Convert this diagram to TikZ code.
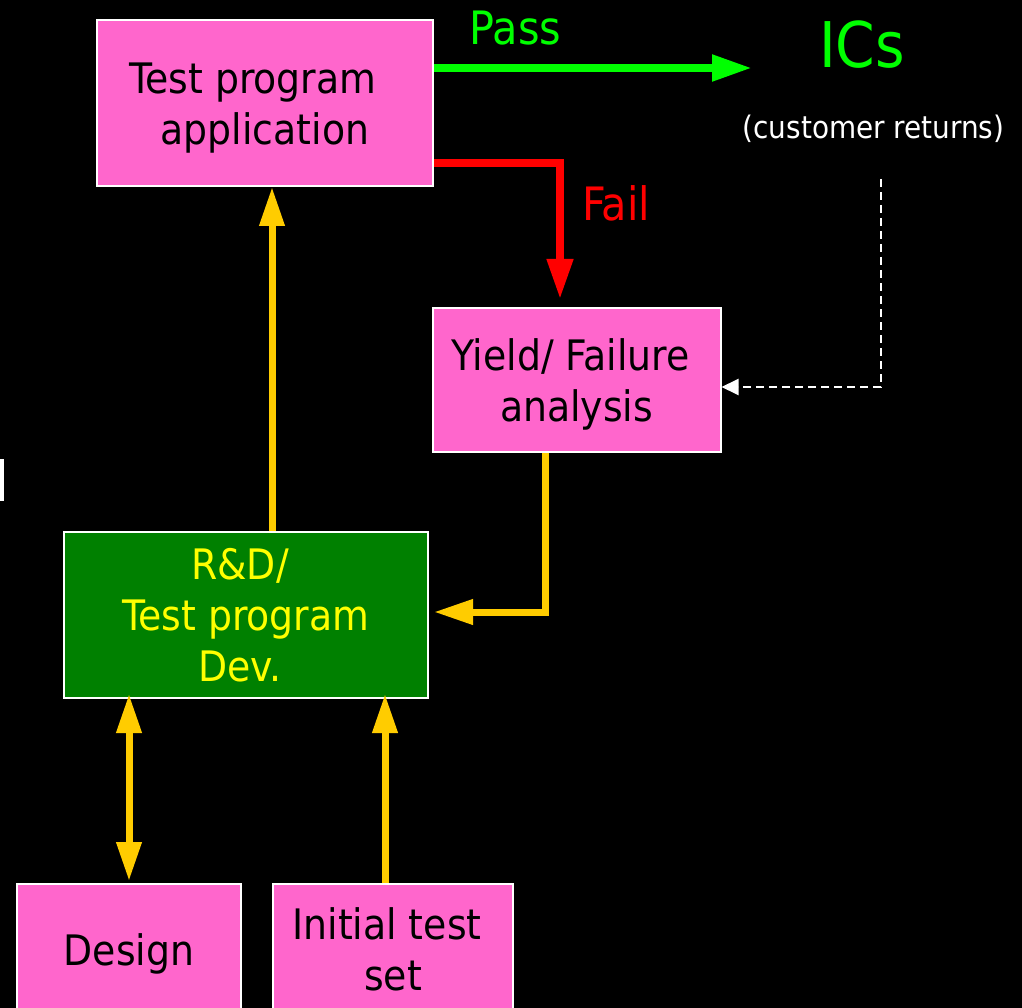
\documentclass[tikz,border=0pt]{standalone}
\usepackage{fontspec}
\setmainfont{DejaVu Sans Condensed}
\usetikzlibrary{arrows.meta,calc}
\definecolor{boxpink}{HTML}{FF66CC}
\definecolor{boxgreen}{HTML}{008000}
\definecolor{arryellow}{HTML}{FFCC00}
\definecolor{passgreen}{HTML}{00FF00}
\definecolor{failred}{HTML}{FF0000}
\definecolor{rdtext}{HTML}{FFFF00}
\begin{document}
\begin{tikzpicture}[x=1pt,y=-1pt,
  box/.style={draw=white, line width=2pt, fill=boxpink, inner sep=0pt, align=center,
    text=black, font=\fontsize{42}{51}\selectfont},
  rdbox/.style={box, fill=boxgreen, text=rdtext},
  bigtip/.style={-{Triangle[length=40pt,width=25pt]}},
  ytip/.tip={Triangle[length=39pt,width=24pt]},
  yarrow/.style={draw=arryellow, line width=7pt},
  lbl/.style={anchor=base, inner sep=0pt}
]
\useasboundingbox (0,0) rectangle (1022,1008);
\fill[black] (0,0) rectangle (1022,1008);
\clip (0,0) rectangle (1022,1008);
\fill[white] (0,459) rectangle (4,501);

% boxes
\node[box, minimum width=336pt, minimum height=166pt] (tp) at (265,103) {\rule{0pt}{41pt}Test program~~~\\application};
\node[box, minimum width=288pt, minimum height=144pt] (ya) at (576.5,380) {\rule{0pt}{40pt}Yield/ Failure~~\\analysis};
\node[rdbox, minimum width=364pt, minimum height=166pt] (rd) at (246,615) {R\&D/~~\\Test program\\Dev.~~};
\node[box, minimum width=224pt, minimum height=140pt] (des) at (129,954) {Design};
\node[box, minimum width=240pt, minimum height=130pt] (its) at (393,949) {Initial test~~\\set};

% labels
\node[lbl, text=passgreen, font=\fontsize{46}{55}\selectfont] (pass) at (515.5,45) {Pass};
\node[lbl, text=passgreen, font=\fontsize{63}{75}\selectfont] (ics) at (862,68) {ICs};
\node[lbl, text=white, font=\fontsize{31}{37}\selectfont] (cr) at (873.5,139) {(customer returns)};
\node[lbl, text=failred, font=\fontsize{46}{55}\selectfont] (fail) at (616,221) {Fail};

\coordinate (passend) at (752,68);
\coordinate (crtop) at (881,179);

% pass / fail
\draw[passgreen, line width=8pt, bigtip] ([yshift=35pt]tp.east) -- (passend);
\draw[failred, line width=7.5pt, bigtip] ([yshift=-60pt]tp.east) -| ([xshift=-16.5pt,yshift=8pt]ya.north);

% customer returns dashed
\draw[white, line width=2pt, dash pattern=on 8pt off 5pt, -{Triangle[length=17pt,width=16pt]}]
  (crtop) |- ([yshift=-7pt]ya.east);

% yellow arrows
\draw[yarrow, -ytip] ([xshift=26pt]rd.north) -- ([xshift=7pt]tp.south);
\draw[yarrow, -ytip] ([xshift=-31.5pt]ya.south) |- ([xshift=5pt,yshift=3pt]rd.east);
\draw[yarrow, ytip-ytip] ([yshift=2pt]des.north) -- ($(des.north |- rd.south)+(0,-5)$);
\path ([xshift=-8pt]its.north) coordinate (itsn);
\draw[yarrow, -ytip] (itsn) -- ($(itsn |- rd.south)+(0,-5)$);
\end{tikzpicture}
\end{document}
